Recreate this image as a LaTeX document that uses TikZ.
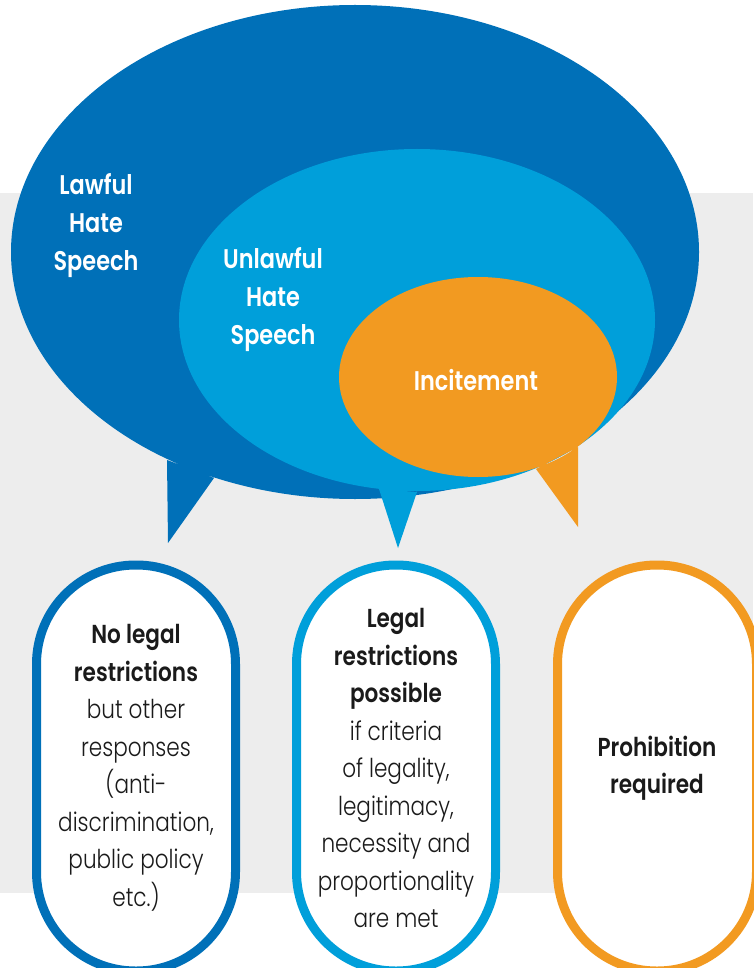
\documentclass[tikz,border=0pt]{standalone}
\usepackage{fontspec}
\setmainfont{Poppins Light}[FakeStretch=0.83, BoldFont={Poppins SemiBold}]
\definecolor{dblue}{HTML}{0070B8}
\definecolor{lblue}{HTML}{009FDA}
\definecolor{orng}{HTML}{F29A21}
\definecolor{bggray}{HTML}{EDEDED}
\definecolor{ink}{HTML}{1A1A1A}
\begin{document}
\begin{tikzpicture}[x=1pt, y=-1pt]
    \useasboundingbox (0,0) rectangle (753,968);
    % define points
    \path
      (355,252) coordinate(L)
      (417,320) coordinate(U)
      (478,377) coordinate(I)
      (167,460) coordinate(L1)
      (168,543) coordinate(Ltip)
      (214,478) coordinate(L2)
      (379,489) coordinate(U1)
      (398,548) coordinate(Utip)
      (417,492) coordinate(U2)
      (536,469) coordinate(I1)
      (578,527) coordinate(Itip)
      (578,447) coordinate(I2)
    ;
    % zones
    \fill[bggray] (0,193) rectangle (753,893);
    % bubbles
    \fill[dblue]
      (L) ellipse[x radius=344, y radius=247]
      (L1) -- (Ltip) -- (L2) -- cycle
    ;
    \fill[lblue]
      (U) ellipse[x radius=238, y radius=171]
      (U1) -- (Utip) -- (U2) -- cycle
    ;
    \fill[orng]
      (I) ellipse[x radius=139, y radius=100]
      (I1) -- (Itip) -- (I2) -- cycle
    ;
    % labels
    \path[
      t/.style = {white, align=center, font=\fontsize{27}{38}\selectfont\bfseries}
    ]
      (96,226) node[t](lawful){Lawful\\Hate\\Speech}
      (273,300) node[t](unlawful){Unlawful\\Hate\\Speech}
      (476,380) node[t](incite){Incitement}
    ;
    % responses
    \path[
      p/.style = {line width=9pt, fill=white, rounded corners=99pt,
        minimum width=199pt, minimum height=406pt, align=center, text=ink,
        font=\fontsize{26}{37.5}\selectfont},
      a/.style = {p, draw=dblue},
      b/.style = {p, draw=lblue},
      c/.style = {p, draw=orng}
    ]
      (136,768) node[a](none){\textbf{No legal}\\\textbf{restrictions}\\but other\\responses\\(anti-\\discrimination,\\public policy\\etc.)}
      (396,768) node[b](possible){\textbf{Legal}\\\textbf{restrictions}\\\textbf{possible}\\if criteria\\of legality,\\legitimacy,\\necessity and\\proportionality\\are met}
      (657,768) node[c](required){\textbf{Prohibition}\\\textbf{required}}
    ;
\end{tikzpicture}
\end{document}
